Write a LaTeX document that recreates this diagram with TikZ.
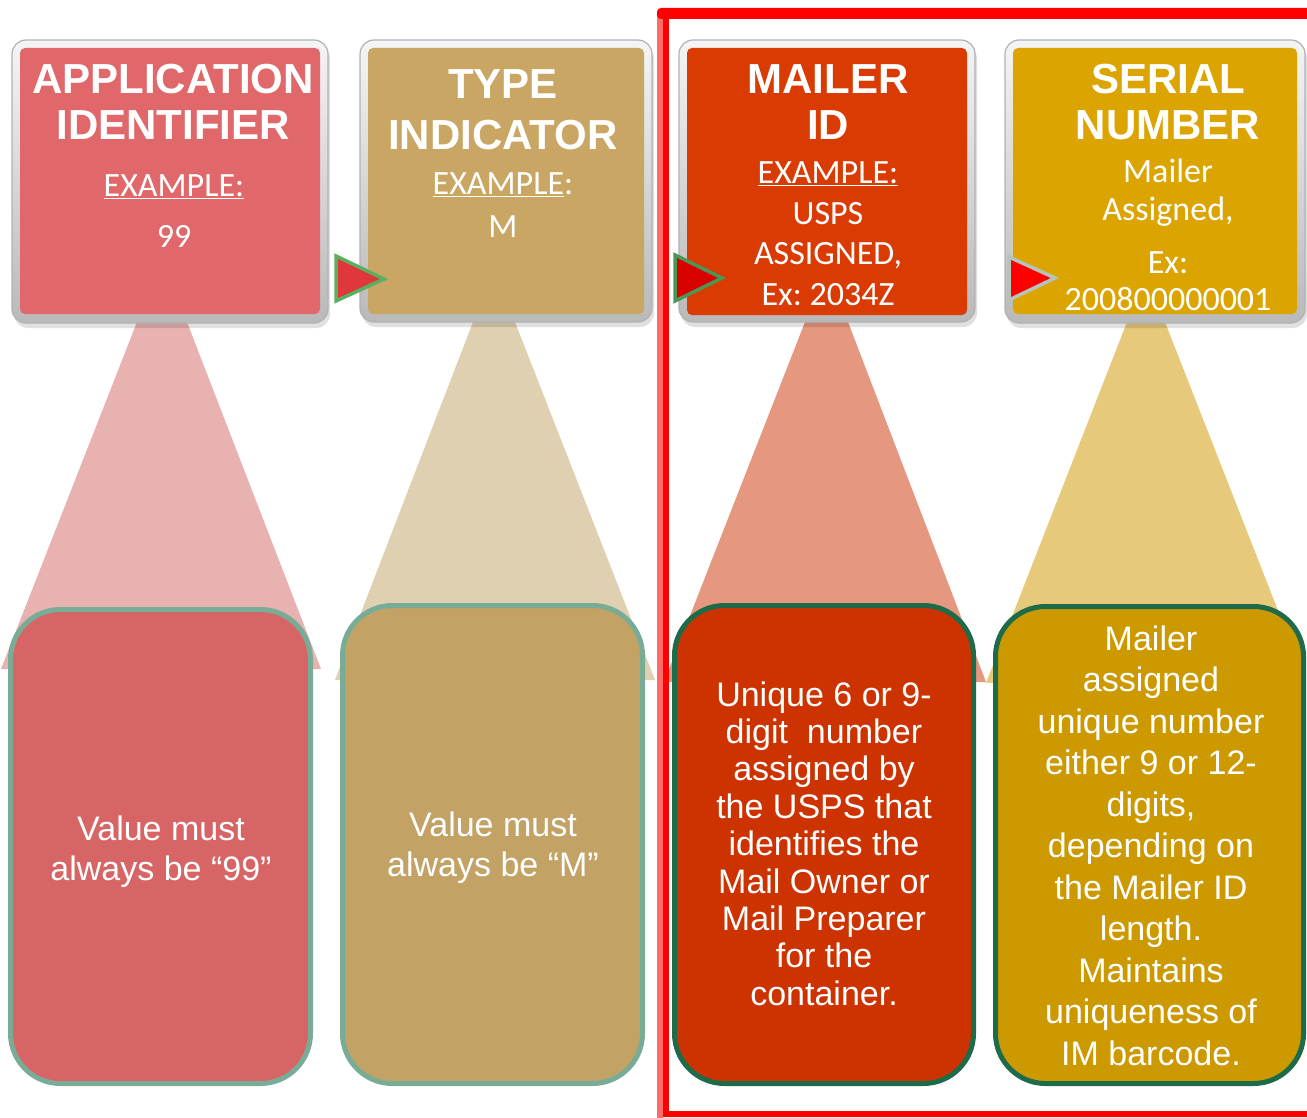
\documentclass[tikz,border=0pt]{standalone}
\usepackage{fontspec}
\setmainfont{Liberation Sans}
\newfontfamily\calibfont{Carlito}
\usetikzlibrary{calc}
\frenchspacing

\definecolor{aiTop}{HTML}{E0686A}
\definecolor{tiTop}{HTML}{C9A663}
\definecolor{miTop}{HTML}{D93B02}
\definecolor{snTop}{HTML}{DBA400}
\definecolor{aiFan}{HTML}{E8B2B1}
\definecolor{tiFan}{HTML}{DFD0B1}
\definecolor{miFan}{HTML}{E5977F}
\definecolor{snFan}{HTML}{E7C97C}
\definecolor{aiBox}{HTML}{D86566}
\definecolor{tiBox}{HTML}{C2A265}
\definecolor{miBox}{HTML}{CC3300}
\definecolor{snBox}{HTML}{CC9900}
\definecolor{sage}{HTML}{79AC96}
\definecolor{pine}{HTML}{1E6B4A}
\definecolor{tipGreen}{HTML}{5BAF60}
\definecolor{tipRed}{HTML}{E0383A}
\definecolor{tipSilver}{HTML}{B4C4BC}
\definecolor{framePink}{HTML}{FF6B6B}

% draw a column of centred lines, one node per line
\newcommand\txtlines[6]{%
  \foreach \tline [count=\k] in {#6}
    \node[#1, anchor=base] (#2-\k) at (#3,{#4+(\k-1)*#5}) {\tline};%
}

\tikzset{
  bevel/.style={anchor=north west, inner sep=0pt, outer sep=0pt, rounded corners=14pt,
    top color=gray!8, bottom color=gray!55, draw=gray!60, line width=1.2pt},
  face/.style={anchor=north west, inner sep=0pt, outer sep=0pt, rounded corners=5pt, fill=#1},
  drop/.style={fill=black, opacity=0.12, rounded corners=14pt},
  panel/.style={anchor=north west, inner sep=0pt, outer sep=0pt, rounded corners=50pt,
    line width=5pt, fill=#1},
  headtxt/.style={text=white, inner sep=0pt, font=\fontsize{42}{46}\selectfont\bfseries},
  subtxt/.style={text=white, inner sep=0pt, font=\calibfont\fontsize{34}{40}\selectfont},
  bodytxt/.style={text=white, inner sep=0pt, font=\fontsize{34}{38}\selectfont},
  pointer/.style={fill=#1, line width=3.5pt, line join=miter},
}

\begin{document}
\begin{tikzpicture}[x=1pt,y=-1pt]
\useasboundingbox (0,0) rectangle (1307,1118);

% fans linking each header to its description
\fill[aiFan] (137,322) -- (187,322) -- (321,669) -- (1,669) -- cycle;
\fill[tiFan] (473,322) -- (515,322) -- (655,680) -- (335,680) -- cycle;
\fill[miFan] (805,322) -- (848,322) -- (986,682) -- (664,682) -- cycle;
\fill[snFan] (1127,322) -- (1165,322) -- (1306,682) -- (986,683) -- cycle;

% header shadows
\fill[drop] (14,45) rectangle (330,328);
\fill[drop] (362,45) rectangle (654,327);
\fill[drop] (681,45) rectangle (977,327);
\fill[drop] (1007,45) rectangle (1307,328);

% header tiles: silver bevel with coloured face
\node[bevel, minimum width=316pt, minimum height=283pt] (ai) at (12,40) {};
\node[face=aiTop, minimum width=300pt, minimum height=266pt] (aiF) at (20,48) {};
\node[bevel, minimum width=292pt, minimum height=282pt] (ti) at (360,40) {};
\node[face=tiTop, minimum width=276pt, minimum height=266pt] (tiF) at (368,48) {};
\node[bevel, minimum width=296pt, minimum height=282pt] (mi) at (679,40) {};
\node[face=miTop, minimum width=280pt, minimum height=267pt] (miF) at (687,48) {};
\node[bevel, minimum width=300pt, minimum height=283pt] (sn) at (1005,40) {};
\node[face=snTop, minimum width=284pt, minimum height=266pt] (snF) at (1013,48) {};

% header texts
\txtlines{headtxt}{aiH}{173}{94}{46}{APPLICATION, IDENTIFIER}
\txtlines{subtxt}{aiS}{174}{197}{51}{{\underline{EXAMPLE:}}, 99}
\txtlines{headtxt}{tiH}{503}{99}{51}{TYPE, INDICATOR}
\txtlines{subtxt}{tiS}{503}{195}{43}{{\underline{EXAMPLE}:}, M}
\txtlines{headtxt}{miH}{828}{94}{46}{MAILER, ID}
\txtlines{subtxt}{miS}{828}{184}{40.5}{{\underline{EXAMPLE:}}, USPS, {ASSIGNED,}, Ex: 2034Z}
\txtlines{headtxt}{snH}{1168}{94}{46}{SERIAL, NUMBER}
\txtlines{subtxt}{snS}{1168}{183}{38}{Mailer, {Assigned,}}
\txtlines{subtxt}{snE}{1168}{273}{37}{Ex:, 200800000001}

% description panels
\node[panel=aiBox, draw=sage, minimum width=300pt, minimum height=474pt] (aiP) at (10.5,609.5) {};
\node[panel=tiBox, draw=sage, minimum width=300pt, minimum height=478pt] (tiP) at (342.5,605.5) {};
\node[panel=miBox, draw=pine, minimum width=299pt, minimum height=478pt] (miP) at (674.5,605.5) {};
\node[panel=snBox, draw=pine, minimum width=308pt, minimum height=477pt] (snP) at (995.5,606.5) {};

\txtlines{bodytxt}{aiB}{161}{840}{40}{Value must, always be “99”}
\txtlines{bodytxt}{tiB}{493}{836}{40}{Value must, always be “M”}
\txtlines{bodytxt}{miB}{824}{706}{37.4}{Unique 6 or 9-, digit~ number, assigned by, the USPS that,
  identifies the, Mail Owner or, Mail Preparer, for the, container.}
\txtlines{bodytxt}{snB}{1151}{650}{41.5}{Mailer, assigned, unique number, either 9 or 12-,
  {digits,}, depending on, the Mailer ID, length., Maintains, uniqueness of, IM barcode.}

% small pointers between the header tiles
\draw[pointer=tipRed, draw=tipGreen] (336,256) -- (384,279) -- (336,301) -- cycle;
\draw[pointer=red!85!black, draw=tipGreen!85!black] (675,255) -- (722,278) -- (675,301) -- cycle;
\draw[pointer=red, draw=tipSilver] (1009,257) -- (1055,278) -- (1009,300) -- cycle;

% red outline around the mailer part
\fill[framePink] (657,14) rectangle (663,1118);
\fill[red, rounded corners=4pt] (657,8) -- (1312,8) -- (1312,19) -- (657,19) -- cycle;
\fill[red] (663,19) rectangle (669,1117);
\fill[red] (663,1111) rectangle (1312,1117);
\end{tikzpicture}
\end{document}
